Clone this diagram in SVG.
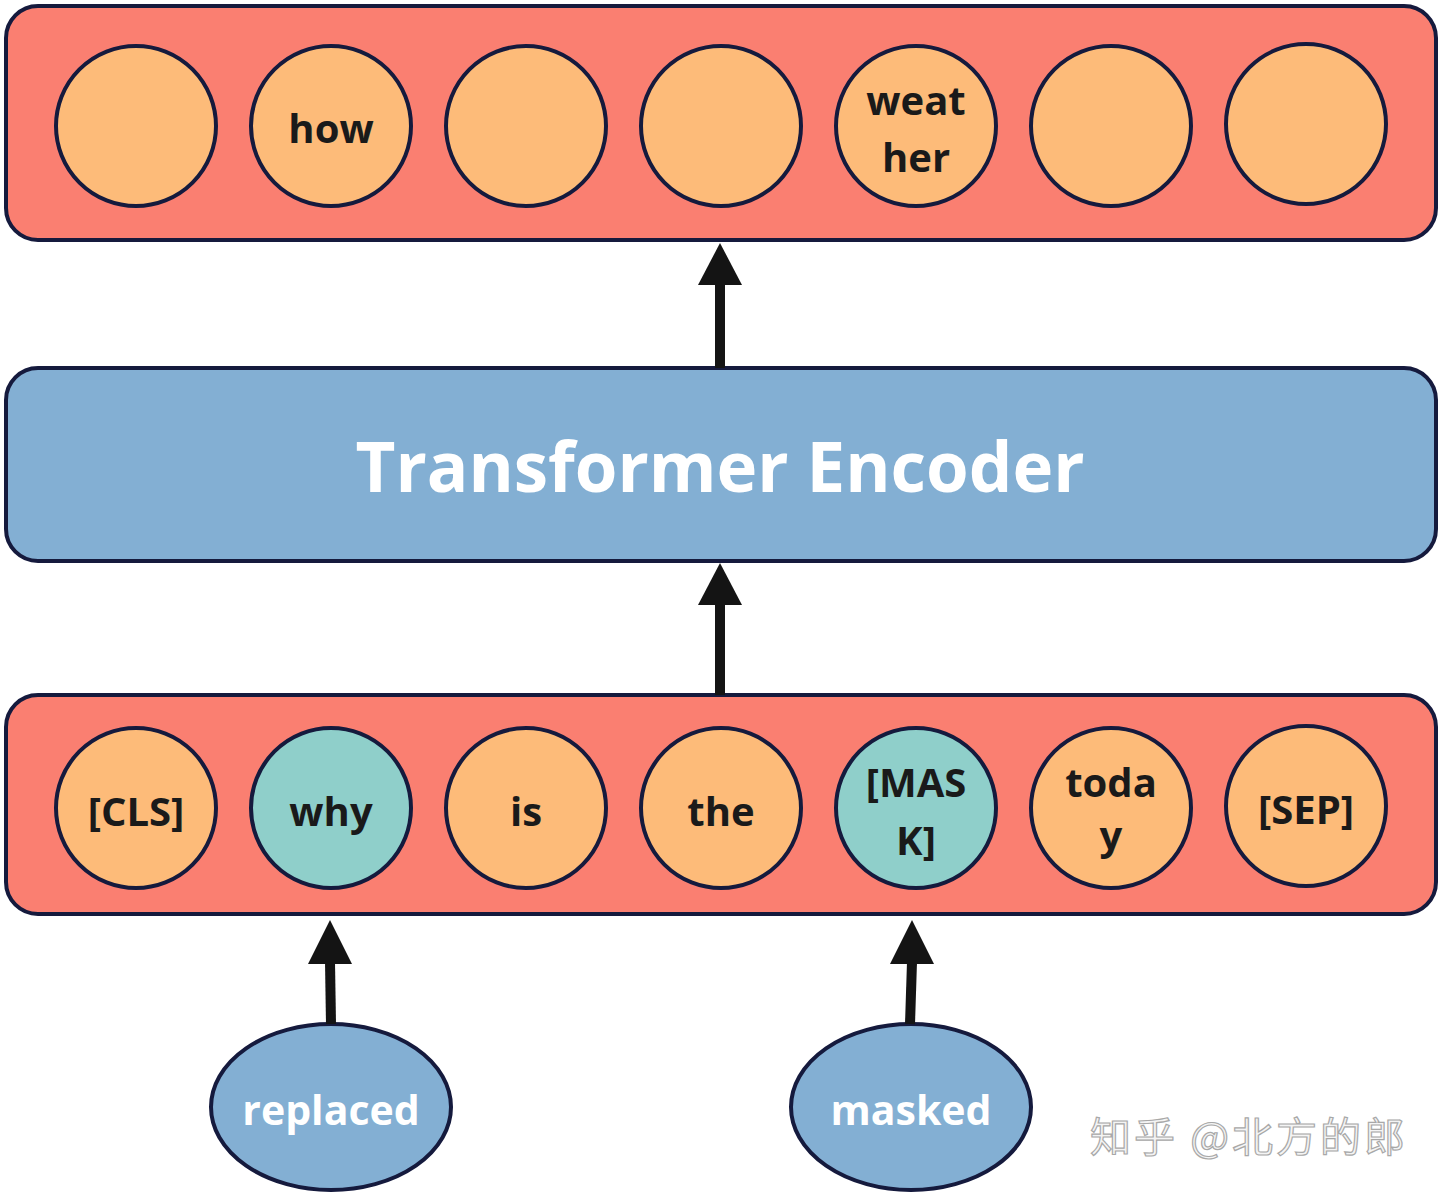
<svg xmlns="http://www.w3.org/2000/svg" width="1440" height="1195" viewBox="0 0 1440 1195">
<style>
.box{stroke:#151a3d;stroke-width:4}
.red{fill:#fa7f71}
.blue{fill:#83afd3}
.tok{fill:#fdbb79;stroke:#151a3d;stroke-width:4}
.tokm{fill:#8fcfca;stroke:#151a3d;stroke-width:4}
.t{font-family:"Open Sans","Liberation Sans",sans-serif;font-weight:700;font-size:40px;fill:#1a1a1a;text-anchor:middle}
.w{font-family:"Open Sans","Liberation Sans",sans-serif;font-weight:700;fill:#ffffff;text-anchor:middle}
.arr{stroke:#141414;stroke-width:10;fill:none}
.head{fill:#141414}
.wm{font-family:"Noto Sans CJK SC","Liberation Sans",sans-serif;font-size:41px;letter-spacing:3px;fill:#f4f4f4;stroke:#a8a8a8;stroke-width:1.2}
</style>
<rect width="1440" height="1195" fill="#ffffff"/>
<g id="output-layer">
<rect class="box red" x="6" y="6" width="1430" height="234" rx="32"/>
<circle class="tok" cx="136" cy="126" r="80"/>
<circle class="tok" cx="331" cy="126" r="80"/>
<text class="t" x="331" y="143">how</text>
<circle class="tok" cx="526" cy="126" r="80"/>
<circle class="tok" cx="721" cy="126" r="80"/>
<circle class="tok" cx="916" cy="126" r="80"/>
<text class="t" x="916" y="115">weat</text>
<text class="t" x="916" y="172">her</text>
<circle class="tok" cx="1111" cy="126" r="80"/>
<circle class="tok" cx="1306" cy="124" r="80"/>
</g>
<g id="encoder">
<rect class="box blue" x="6" y="368" width="1430" height="193" rx="32"/>
<text class="w" x="720" y="492" font-size="69">Transformer Encoder</text>
</g>
<g id="input-layer">
<rect class="box red" x="6" y="695" width="1430" height="219" rx="32"/>
<circle class="tok" cx="136" cy="808" r="80"/>
<text class="t" x="136" y="826">[CLS]</text>
<circle class="tokm" cx="331" cy="808" r="80"/>
<text class="t" x="331" y="826">why</text>
<circle class="tok" cx="526" cy="808" r="80"/>
<text class="t" x="526" y="826">is</text>
<circle class="tok" cx="721" cy="808" r="80"/>
<text class="t" x="721" y="826">the</text>
<circle class="tokm" cx="916" cy="808" r="80"/>
<text class="t" x="916" y="797">[MAS</text>
<text class="t" x="916" y="855">K]</text>
<circle class="tok" cx="1111" cy="808" r="80"/>
<text class="t" x="1111" y="797">toda</text>
<text class="t" x="1111" y="850">y</text>
<circle class="tok" cx="1306" cy="806" r="80"/>
<text class="t" x="1306" y="824">[SEP]</text>
</g>
<g id="replaced">
<ellipse class="box blue" cx="331" cy="1107" rx="120" ry="83"/>
<text class="w" x="331" y="1125" font-size="41">replaced</text>
</g>
<g id="masked">
<ellipse class="box blue" cx="911" cy="1107" rx="120" ry="83"/>
<text class="w" x="911" y="1125" font-size="41">masked</text>
</g>
<g id="connectors">
<line class="arr" x1="720" y1="368" x2="720" y2="282"/>
<polygon class="head" points="720,243 698,285 742,285"/>
<line class="arr" x1="720" y1="695" x2="720" y2="602"/>
<polygon class="head" points="720,563 698,605 742,605"/>
<line class="arr" x1="331" y1="1024" x2="330" y2="962"/>
<polygon class="head" points="330,920 308,964 352,964"/>
<line class="arr" x1="910" y1="1024" x2="912" y2="962"/>
<polygon class="head" points="912,920 890,964 934,964"/>
</g>
<text class="wm" x="1090" y="1152">知乎 @北方的郎</text>
</svg>
